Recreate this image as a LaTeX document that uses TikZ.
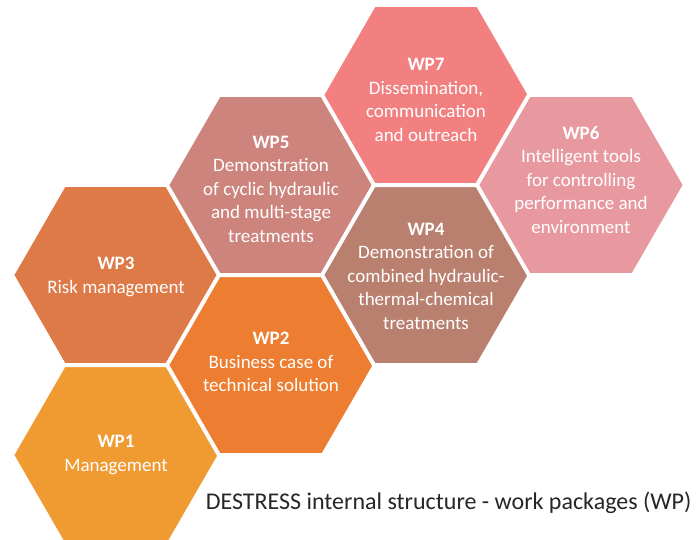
\documentclass[tikz,border=0pt]{standalone}
\usepackage{fontspec}
\setmainfont{Carlito}
\usetikzlibrary{positioning}

\definecolor{wpone}{RGB}{240,154,50}
\definecolor{wptwo}{RGB}{237,125,49}
\definecolor{wpthree}{RGB}{222,122,72}
\definecolor{wpfour}{RGB}{186,128,111}
\definecolor{wpfive}{RGB}{205,132,125}
\definecolor{wpsix}{RGB}{232,152,159}
\definecolor{wpseven}{RGB}{242,128,128}

\begin{document}
\begin{tikzpicture}[x=1pt, y=-1pt,
    hexa/.style={fill=#1, draw=white, line width=4pt, line join=round},
    wptext/.style={text=white, align=center, font=\fontsize{19}{23.5}\selectfont}]
    \useasboundingbox (0,0) rectangle (696,540);
    \clip (0,0) rectangle (696,540);

    % Hexagons
    \foreach \x/\y/\col in {116/455/wpone, 116/275/wpthree, 271/365/wptwo,
        271/185/wpfive, 426/275/wpfour, 426/95/wpseven, 581/185/wpsix} {
        \filldraw[hexa=\col] (\x,\y) +(0:104) -- +(60:104) -- +(120:104)
            -- +(180:104) -- +(240:104) -- +(300:104) -- cycle;
    }

    % Work package labels
    \node[wptext] (wp1) at (116,455) {\textbf{WP1}\\Management};
    \node[wptext] (wp3) at (116,277) {\textbf{WP3}\\Risk management};
    \node[wptext] (wp2) at (271,362) {\textbf{WP2}\\Business case of\\technical solution};
    \node[wptext] (wp5) at (271,189) {\textbf{WP5}\\Demonstration\\of cyclic hydraulic\\and multi-stage\\treatments};
    \node[wptext] (wp4) at (426,276) {\textbf{WP4}\\Demonstration of\\combined hydraulic-\\thermal-chemical\\treatments};
    \node[wptext] (wp7) at (426,100) {\textbf{WP7}\\Dissemination,\\communication\\and outreach};
    \node[wptext] (wp6) at (581,180) {\textbf{WP6}\\Intelligent tools\\for controlling\\performance and\\environment};

    % Caption
    \node[anchor=east, text=black!85, font=\fontsize{24}{28}\selectfont] (caption) at (695,503)
        {DESTRESS internal structure - work packages (WP)};
\end{tikzpicture}
\end{document}
